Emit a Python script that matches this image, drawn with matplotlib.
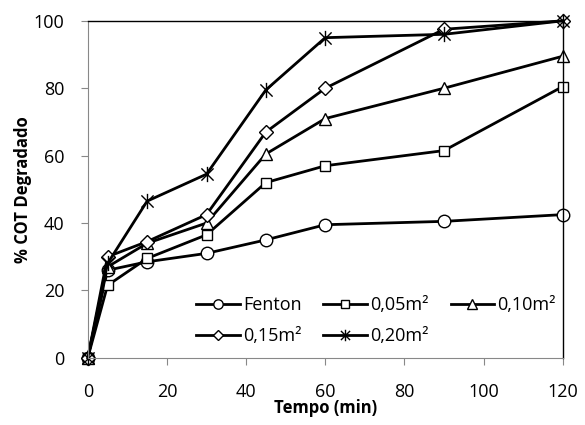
import matplotlib.pyplot as plt
import numpy as np
from matplotlib.path import Path

# data
tempo = [0, 5, 15, 30, 45, 60, 90, 120]
fenton = [0, 26, 28.5, 31, 35, 39.5, 40.5, 42.5]
a005 = [0, 21.5, 29.5, 36.5, 52, 57, 61.5, 80.5]
a010 = [0, 27, 34, 40, 60.5, 71, 80, 89.5]
a015 = [0, 30, 34.5, 42.5, 67, 80, 97.5, 100]
a020 = [0, 28, 46.5, 54.5, 79.5, 95, 96, 100]

plt.rcParams['font.family'] = ['Open Sans', 'DejaVu Sans']

# asterisk marker like Excel's (vertical bar plus X)
star = Path([(0, -1), (0, 1), (-0.8, -0.8), (0.8, 0.8), (-0.8, 0.8), (0.8, -0.8)],
            [Path.MOVETO, Path.LINETO, Path.MOVETO, Path.LINETO, Path.MOVETO, Path.LINETO])

fig = plt.figure(figsize=(5.85, 4.25), dpi=100)
ax = fig.add_axes([0.150, 0.158, 0.812, 0.793])

style = dict(color='black', lw=2.0, mfc='white', mec='black', mew=1.0, clip_on=False)
l1, = ax.plot(tempo, fenton, marker='o', ms=9, label='Fenton', **style)
l2, = ax.plot(tempo, a005, marker='s', ms=7.5, label='0,05m²', **style)
l3, = ax.plot(tempo, a010, marker='^', ms=9, label='0,10m²', **style)
l4, = ax.plot(tempo, a015, marker='D', ms=7, label='0,15m²', **style)
l5, = ax.plot(tempo, a020, marker=star, ms=11, label='0,20m²', **style)

ax.set_xlim(0, 120)
ax.set_ylim(0, 100)
ax.set_xticks(np.arange(0, 121, 20))
ax.set_yticks(np.arange(0, 101, 20))
ax.tick_params(labelsize=13, length=5, color='#888888')
ax.tick_params(axis='x', pad=13)
ax.tick_params(axis='y', pad=12)
for s in ['left', 'bottom']:
    ax.spines[s].set_color('#888888')
for s in ['top', 'right']:
    ax.spines[s].set_color('black')
    ax.spines[s].set_linewidth(1.0)

ax.set_xlabel('Tempo (min)', fontsize=12, fontweight='bold', labelpad=-1)
ax.set_ylabel('% COT Degradado', fontsize=12, fontweight='bold', labelpad=1)

ax.legend([l1, l4, l2, l5, l3], ['Fenton', '0,15m²', '0,05m²', '0,20m²', '0,10m²'],
          ncol=3, frameon=False, fontsize=13, loc='lower right', bbox_to_anchor=(1.02, -0.01),
          handlelength=2.4, handletextpad=0.2, columnspacing=1.2, labelspacing=0.7,
          markerscale=0.75)

fig.savefig('out.png', dpi=100)
